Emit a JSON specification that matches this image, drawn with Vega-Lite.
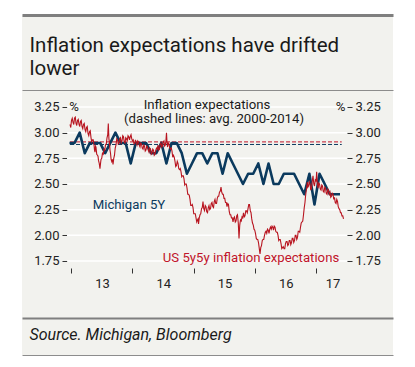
{
  "$schema": "https://vega.github.io/schema/vega-lite/v6.json",
  "width": 371,
  "height": 340,
  "autosize": {"type": "none"},
  "padding": {"left": 22, "top": 15, "right": 22, "bottom": 12},
  "background": "#ffffff",
  "config": {
    "view": {"fill": "#f2f2ee", "stroke": null},
    "font": "Roboto",
    "axis": {"labelFont": "Roboto", "titleFont": "Roboto", "labelFlush": false, "labelOverlap": false, "grid": false}
  },
  "datasets": {
    "grid": [{"v": 1.75}, {"v": 2.0}, {"v": 2.25}, {"v": 2.5}, {"v": 2.75}, {"v": 3.0}, {"v": 3.25}],
    "avg": [{"series": "US 5y5y", "avg": 2.91}, {"series": "Michigan 5Y", "avg": 2.885}],
    "mich": [
      {"t": 2012.975, "v": 2.9},
      {"t": 2013.058, "v": 2.9}, {"t": 2013.142, "v": 3.0}, {"t": 2013.225, "v": 2.8}, {"t": 2013.308, "v": 2.9},
      {"t": 2013.392, "v": 2.9}, {"t": 2013.475, "v": 2.9}, {"t": 2013.558, "v": 2.8}, {"t": 2013.642, "v": 2.9},
      {"t": 2013.725, "v": 3.0}, {"t": 2013.808, "v": 2.9}, {"t": 2013.892, "v": 2.9}, {"t": 2013.975, "v": 2.7},
      {"t": 2014.058, "v": 2.9}, {"t": 2014.142, "v": 2.9}, {"t": 2014.225, "v": 2.9}, {"t": 2014.308, "v": 2.8},
      {"t": 2014.392, "v": 2.8}, {"t": 2014.475, "v": 2.9}, {"t": 2014.558, "v": 2.7}, {"t": 2014.642, "v": 2.9},
      {"t": 2014.725, "v": 2.9}, {"t": 2014.808, "v": 2.8}, {"t": 2014.892, "v": 2.6}, {"t": 2014.975, "v": 2.7},
      {"t": 2015.058, "v": 2.8}, {"t": 2015.142, "v": 2.8}, {"t": 2015.225, "v": 2.7}, {"t": 2015.308, "v": 2.8},
      {"t": 2015.392, "v": 2.8}, {"t": 2015.475, "v": 2.6}, {"t": 2015.558, "v": 2.8}, {"t": 2015.642, "v": 2.7},
      {"t": 2015.725, "v": 2.6}, {"t": 2015.808, "v": 2.5}, {"t": 2015.892, "v": 2.6}, {"t": 2015.975, "v": 2.6},
      {"t": 2016.058, "v": 2.7}, {"t": 2016.142, "v": 2.5}, {"t": 2016.225, "v": 2.7}, {"t": 2016.308, "v": 2.5},
      {"t": 2016.392, "v": 2.5}, {"t": 2016.475, "v": 2.6}, {"t": 2016.558, "v": 2.6}, {"t": 2016.642, "v": 2.6},
      {"t": 2016.725, "v": 2.5}, {"t": 2016.808, "v": 2.4}, {"t": 2016.892, "v": 2.6}, {"t": 2016.975, "v": 2.3},
      {"t": 2017.058, "v": 2.6}, {"t": 2017.142, "v": 2.5}, {"t": 2017.225, "v": 2.4}, {"t": 2017.308, "v": 2.4},
      {"t": 2017.392, "v": 2.4}
    ],
    "us": [
      {"t": 2012.984, "v": 3.08}, {"t": 2012.996, "v": 3.05}, {"t": 2013.008, "v": 3.12}, {"t": 2013.020, "v": 3.14},
      {"t": 2013.033, "v": 3.10}, {"t": 2013.045, "v": 3.08}, {"t": 2013.057, "v": 3.14}, {"t": 2013.070, "v": 3.15},
      {"t": 2013.082, "v": 3.09}, {"t": 2013.094, "v": 3.07}, {"t": 2013.106, "v": 3.12}, {"t": 2013.118, "v": 3.13},
      {"t": 2013.131, "v": 3.08}, {"t": 2013.143, "v": 3.06}, {"t": 2013.155, "v": 3.11}, {"t": 2013.167, "v": 3.12},
      {"t": 2013.180, "v": 3.06}, {"t": 2013.192, "v": 3.04}, {"t": 2013.204, "v": 3.08}, {"t": 2013.216, "v": 3.09},
      {"t": 2013.229, "v": 3.03}, {"t": 2013.241, "v": 3.01}, {"t": 2013.253, "v": 3.05}, {"t": 2013.265, "v": 3.06},
      {"t": 2013.278, "v": 2.99}, {"t": 2013.290, "v": 2.97}, {"t": 2013.302, "v": 3.01}, {"t": 2013.314, "v": 3.02},
      {"t": 2013.327, "v": 2.95}, {"t": 2013.339, "v": 2.91}, {"t": 2013.351, "v": 2.93}, {"t": 2013.363, "v": 2.93},
      {"t": 2013.376, "v": 2.88}, {"t": 2013.384, "v": 2.83}, {"t": 2013.392, "v": 2.81}, {"t": 2013.400, "v": 2.87},
      {"t": 2013.408, "v": 2.86}, {"t": 2013.420, "v": 2.79}, {"t": 2013.433, "v": 2.78}, {"t": 2013.441, "v": 2.77},
      {"t": 2013.449, "v": 2.73}, {"t": 2013.461, "v": 2.70}, {"t": 2013.473, "v": 2.65}, {"t": 2013.482, "v": 2.70},
      {"t": 2013.490, "v": 2.74}, {"t": 2013.502, "v": 2.75}, {"t": 2013.514, "v": 2.80}, {"t": 2013.527, "v": 2.79},
      {"t": 2013.539, "v": 2.84}, {"t": 2013.551, "v": 2.83}, {"t": 2013.563, "v": 2.88}, {"t": 2013.576, "v": 2.89},
      {"t": 2013.588, "v": 2.95}, {"t": 2013.600, "v": 2.98}, {"t": 2013.609, "v": 3.09}, {"t": 2013.619, "v": 2.94},
      {"t": 2013.629, "v": 2.90}, {"t": 2013.637, "v": 2.83}, {"t": 2013.645, "v": 2.80}, {"t": 2013.655, "v": 2.74},
      {"t": 2013.665, "v": 2.72}, {"t": 2013.676, "v": 2.74}, {"t": 2013.686, "v": 2.69}, {"t": 2013.698, "v": 2.75},
      {"t": 2013.710, "v": 2.78}, {"t": 2013.722, "v": 2.85}, {"t": 2013.735, "v": 2.88}, {"t": 2013.747, "v": 2.94},
      {"t": 2013.759, "v": 2.93}, {"t": 2013.771, "v": 2.89}, {"t": 2013.784, "v": 2.90}, {"t": 2013.796, "v": 2.94},
      {"t": 2013.808, "v": 2.95}, {"t": 2013.820, "v": 2.90}, {"t": 2013.833, "v": 2.92}, {"t": 2013.845, "v": 2.97},
      {"t": 2013.857, "v": 2.96}, {"t": 2013.869, "v": 2.91}, {"t": 2013.882, "v": 2.90}, {"t": 2013.894, "v": 2.95},
      {"t": 2013.906, "v": 2.94}, {"t": 2013.918, "v": 2.92}, {"t": 2013.931, "v": 2.97}, {"t": 2013.943, "v": 2.96},
      {"t": 2013.955, "v": 2.93}, {"t": 2013.967, "v": 2.96}, {"t": 2013.980, "v": 2.98}, {"t": 2013.992, "v": 2.94},
      {"t": 2014.004, "v": 2.92}, {"t": 2014.016, "v": 2.93}, {"t": 2014.029, "v": 2.89}, {"t": 2014.041, "v": 2.90},
      {"t": 2014.053, "v": 2.93}, {"t": 2014.065, "v": 2.90}, {"t": 2014.078, "v": 2.88}, {"t": 2014.090, "v": 2.92},
      {"t": 2014.102, "v": 2.91}, {"t": 2014.114, "v": 2.88}, {"t": 2014.127, "v": 2.86}, {"t": 2014.139, "v": 2.90},
      {"t": 2014.151, "v": 2.89}, {"t": 2014.163, "v": 2.85}, {"t": 2014.176, "v": 2.84}, {"t": 2014.188, "v": 2.88},
      {"t": 2014.200, "v": 2.87}, {"t": 2014.212, "v": 2.82}, {"t": 2014.224, "v": 2.83}, {"t": 2014.237, "v": 2.87},
      {"t": 2014.249, "v": 2.86}, {"t": 2014.261, "v": 2.83}, {"t": 2014.273, "v": 2.81}, {"t": 2014.285, "v": 2.85},
      {"t": 2014.298, "v": 2.84}, {"t": 2014.310, "v": 2.79}, {"t": 2014.322, "v": 2.80}, {"t": 2014.335, "v": 2.84},
      {"t": 2014.347, "v": 2.83}, {"t": 2014.359, "v": 2.78}, {"t": 2014.371, "v": 2.79}, {"t": 2014.384, "v": 2.83},
      {"t": 2014.396, "v": 2.85}, {"t": 2014.408, "v": 2.84}, {"t": 2014.420, "v": 2.88}, {"t": 2014.433, "v": 2.83},
      {"t": 2014.445, "v": 2.84}, {"t": 2014.457, "v": 2.89}, {"t": 2014.469, "v": 2.90}, {"t": 2014.482, "v": 2.86},
      {"t": 2014.494, "v": 2.87}, {"t": 2014.506, "v": 2.91}, {"t": 2014.518, "v": 2.92}, {"t": 2014.529, "v": 2.87},
      {"t": 2014.540, "v": 2.88}, {"t": 2014.550, "v": 2.92}, {"t": 2014.559, "v": 3.00}, {"t": 2014.568, "v": 2.90},
      {"t": 2014.576, "v": 2.86}, {"t": 2014.588, "v": 2.90}, {"t": 2014.600, "v": 2.89}, {"t": 2014.612, "v": 2.85},
      {"t": 2014.624, "v": 2.84}, {"t": 2014.637, "v": 2.85}, {"t": 2014.649, "v": 2.82}, {"t": 2014.661, "v": 2.76},
      {"t": 2014.673, "v": 2.78}, {"t": 2014.686, "v": 2.76}, {"t": 2014.698, "v": 2.72}, {"t": 2014.710, "v": 2.67},
      {"t": 2014.722, "v": 2.68}, {"t": 2014.735, "v": 2.72}, {"t": 2014.747, "v": 2.70}, {"t": 2014.759, "v": 2.65},
      {"t": 2014.771, "v": 2.64}, {"t": 2014.784, "v": 2.65}, {"t": 2014.796, "v": 2.62}, {"t": 2014.808, "v": 2.57},
      {"t": 2014.820, "v": 2.58}, {"t": 2014.833, "v": 2.58}, {"t": 2014.845, "v": 2.55}, {"t": 2014.857, "v": 2.49},
      {"t": 2014.869, "v": 2.50}, {"t": 2014.882, "v": 2.50}, {"t": 2014.894, "v": 2.46}, {"t": 2014.906, "v": 2.40},
      {"t": 2014.918, "v": 2.40}, {"t": 2014.931, "v": 2.39}, {"t": 2014.943, "v": 2.35}, {"t": 2014.955, "v": 2.29},
      {"t": 2014.967, "v": 2.29}, {"t": 2014.980, "v": 2.30}, {"t": 2014.992, "v": 2.27}, {"t": 2015.004, "v": 2.21},
      {"t": 2015.016, "v": 2.21}, {"t": 2015.029, "v": 2.21}, {"t": 2015.041, "v": 2.17}, {"t": 2015.053, "v": 2.13},
      {"t": 2015.065, "v": 2.15}, {"t": 2015.074, "v": 2.16}, {"t": 2015.082, "v": 2.11}, {"t": 2015.094, "v": 2.17},
      {"t": 2015.106, "v": 2.20}, {"t": 2015.118, "v": 2.21}, {"t": 2015.131, "v": 2.26}, {"t": 2015.143, "v": 2.27},
      {"t": 2015.155, "v": 2.33}, {"t": 2015.167, "v": 2.26}, {"t": 2015.180, "v": 2.24}, {"t": 2015.192, "v": 2.29},
      {"t": 2015.204, "v": 2.28}, {"t": 2015.216, "v": 2.23}, {"t": 2015.229, "v": 2.22}, {"t": 2015.241, "v": 2.27},
      {"t": 2015.253, "v": 2.29}, {"t": 2015.265, "v": 2.25}, {"t": 2015.278, "v": 2.26}, {"t": 2015.290, "v": 2.31},
      {"t": 2015.302, "v": 2.32}, {"t": 2015.314, "v": 2.28}, {"t": 2015.327, "v": 2.27}, {"t": 2015.339, "v": 2.33},
      {"t": 2015.351, "v": 2.35}, {"t": 2015.363, "v": 2.31}, {"t": 2015.376, "v": 2.31}, {"t": 2015.388, "v": 2.36},
      {"t": 2015.400, "v": 2.38}, {"t": 2015.412, "v": 2.38}, {"t": 2015.424, "v": 2.42}, {"t": 2015.437, "v": 2.43},
      {"t": 2015.449, "v": 2.47}, {"t": 2015.461, "v": 2.42}, {"t": 2015.473, "v": 2.40}, {"t": 2015.486, "v": 2.40},
      {"t": 2015.498, "v": 2.36}, {"t": 2015.510, "v": 2.36}, {"t": 2015.522, "v": 2.32}, {"t": 2015.535, "v": 2.32},
      {"t": 2015.547, "v": 2.28}, {"t": 2015.559, "v": 2.31}, {"t": 2015.571, "v": 2.30}, {"t": 2015.584, "v": 2.23},
      {"t": 2015.596, "v": 2.20}, {"t": 2015.608, "v": 2.20}, {"t": 2015.620, "v": 2.17}, {"t": 2015.633, "v": 2.17},
      {"t": 2015.645, "v": 2.13}, {"t": 2015.657, "v": 2.17}, {"t": 2015.669, "v": 2.18}, {"t": 2015.682, "v": 2.13},
      {"t": 2015.694, "v": 2.14}, {"t": 2015.706, "v": 2.19}, {"t": 2015.718, "v": 2.20}, {"t": 2015.731, "v": 2.12},
      {"t": 2015.743, "v": 1.97}, {"t": 2015.755, "v": 2.10}, {"t": 2015.767, "v": 2.15}, {"t": 2015.780, "v": 2.14},
      {"t": 2015.792, "v": 2.18}, {"t": 2015.804, "v": 2.17}, {"t": 2015.816, "v": 2.22}, {"t": 2015.829, "v": 2.18},
      {"t": 2015.841, "v": 2.19}, {"t": 2015.853, "v": 2.24}, {"t": 2015.865, "v": 2.24}, {"t": 2015.878, "v": 2.22},
      {"t": 2015.890, "v": 2.26}, {"t": 2015.902, "v": 2.30}, {"t": 2015.914, "v": 2.30}, {"t": 2015.927, "v": 2.24},
      {"t": 2015.939, "v": 2.22}, {"t": 2015.951, "v": 2.16}, {"t": 2015.963, "v": 2.12}, {"t": 2015.976, "v": 2.10},
      {"t": 2015.988, "v": 2.06}, {"t": 2016.000, "v": 2.05}, {"t": 2016.012, "v": 2.02}, {"t": 2016.025, "v": 1.97},
      {"t": 2016.037, "v": 1.96}, {"t": 2016.049, "v": 1.96}, {"t": 2016.061, "v": 1.93}, {"t": 2016.074, "v": 1.87},
      {"t": 2016.086, "v": 1.82}, {"t": 2016.098, "v": 1.88}, {"t": 2016.110, "v": 1.90}, {"t": 2016.123, "v": 1.95},
      {"t": 2016.135, "v": 1.96}, {"t": 2016.147, "v": 1.96}, {"t": 2016.159, "v": 2.00}, {"t": 2016.172, "v": 2.03},
      {"t": 2016.184, "v": 2.04}, {"t": 2016.196, "v": 2.02}, {"t": 2016.208, "v": 2.06}, {"t": 2016.221, "v": 2.05},
      {"t": 2016.233, "v": 2.02}, {"t": 2016.245, "v": 2.06}, {"t": 2016.257, "v": 2.08}, {"t": 2016.270, "v": 2.06},
      {"t": 2016.282, "v": 2.09}, {"t": 2016.294, "v": 2.08}, {"t": 2016.306, "v": 2.05}, {"t": 2016.318, "v": 2.09},
      {"t": 2016.331, "v": 2.08}, {"t": 2016.343, "v": 2.04}, {"t": 2016.355, "v": 2.03}, {"t": 2016.368, "v": 2.03},
      {"t": 2016.380, "v": 2.00}, {"t": 2016.392, "v": 1.95}, {"t": 2016.404, "v": 1.96}, {"t": 2016.416, "v": 1.96},
      {"t": 2016.429, "v": 1.92}, {"t": 2016.441, "v": 1.87}, {"t": 2016.453, "v": 1.88}, {"t": 2016.465, "v": 1.89},
      {"t": 2016.478, "v": 1.87}, {"t": 2016.490, "v": 1.87}, {"t": 2016.502, "v": 1.92}, {"t": 2016.514, "v": 1.94},
      {"t": 2016.527, "v": 1.94}, {"t": 2016.539, "v": 1.90}, {"t": 2016.551, "v": 1.91}, {"t": 2016.563, "v": 1.95},
      {"t": 2016.576, "v": 1.95}, {"t": 2016.588, "v": 1.91}, {"t": 2016.600, "v": 1.93}, {"t": 2016.612, "v": 1.97},
      {"t": 2016.624, "v": 1.97}, {"t": 2016.637, "v": 1.93}, {"t": 2016.649, "v": 1.95}, {"t": 2016.661, "v": 2.00},
      {"t": 2016.673, "v": 2.00}, {"t": 2016.686, "v": 1.96}, {"t": 2016.698, "v": 1.98}, {"t": 2016.710, "v": 2.04},
      {"t": 2016.722, "v": 2.04}, {"t": 2016.735, "v": 2.03}, {"t": 2016.747, "v": 2.08}, {"t": 2016.759, "v": 2.12},
      {"t": 2016.771, "v": 2.13}, {"t": 2016.784, "v": 2.14}, {"t": 2016.796, "v": 2.20}, {"t": 2016.808, "v": 2.27},
      {"t": 2016.820, "v": 2.32}, {"t": 2016.829, "v": 2.38}, {"t": 2016.837, "v": 2.42}, {"t": 2016.848, "v": 2.46},
      {"t": 2016.858, "v": 2.52}, {"t": 2016.868, "v": 2.47}, {"t": 2016.878, "v": 2.48}, {"t": 2016.890, "v": 2.52},
      {"t": 2016.902, "v": 2.50}, {"t": 2016.915, "v": 2.44}, {"t": 2016.927, "v": 2.46}, {"t": 2016.939, "v": 2.53},
      {"t": 2016.951, "v": 2.58}, {"t": 2016.964, "v": 2.50}, {"t": 2016.976, "v": 2.48}, {"t": 2016.988, "v": 2.54},
      {"t": 2017.000, "v": 2.53}, {"t": 2017.006, "v": 2.57}, {"t": 2017.011, "v": 2.62}, {"t": 2017.022, "v": 2.50},
      {"t": 2017.033, "v": 2.46}, {"t": 2017.045, "v": 2.51}, {"t": 2017.057, "v": 2.50}, {"t": 2017.070, "v": 2.45},
      {"t": 2017.082, "v": 2.44}, {"t": 2017.094, "v": 2.49}, {"t": 2017.106, "v": 2.48}, {"t": 2017.118, "v": 2.43},
      {"t": 2017.131, "v": 2.42}, {"t": 2017.143, "v": 2.47}, {"t": 2017.155, "v": 2.46}, {"t": 2017.167, "v": 2.41},
      {"t": 2017.180, "v": 2.40}, {"t": 2017.192, "v": 2.45}, {"t": 2017.204, "v": 2.44}, {"t": 2017.216, "v": 2.40},
      {"t": 2017.229, "v": 2.42}, {"t": 2017.241, "v": 2.37}, {"t": 2017.253, "v": 2.38}, {"t": 2017.265, "v": 2.41},
      {"t": 2017.278, "v": 2.40}, {"t": 2017.290, "v": 2.35}, {"t": 2017.302, "v": 2.37}, {"t": 2017.314, "v": 2.32},
      {"t": 2017.327, "v": 2.31}, {"t": 2017.339, "v": 2.35}, {"t": 2017.351, "v": 2.33}, {"t": 2017.363, "v": 2.28},
      {"t": 2017.376, "v": 2.26}, {"t": 2017.388, "v": 2.25}, {"t": 2017.400, "v": 2.22}, {"t": 2017.412, "v": 2.22},
      {"t": 2017.424, "v": 2.19}, {"t": 2017.437, "v": 2.19}, {"t": 2017.449, "v": 2.16}
    ],
    "notes": [
      {"label": "%", "t": 2013.052, "v": 3.211, "kind": "axis"},
      {"label": "%", "t": 2017.400, "v": 3.211, "kind": "axis"},
      {"label": "Inflation expectations", "t": 2015.220, "v": 3.232, "kind": "note"},
      {"label": "(dashed lines: avg. 2000-2014)", "t": 2015.335, "v": 3.094, "kind": "note"},
      {"label": "Michigan 5Y", "t": 2013.947, "v": 2.254, "kind": "Michigan 5Y"},
      {"label": "US 5y5y inflation expectations", "t": 2015.939, "v": 1.745, "kind": "US 5y5y"}
    ]
  },
  "layer": [
    {
      "data": {"name": "grid"},
      "mark": {"type": "rule", "color": "#ffffff", "strokeWidth": 1.5},
      "encoding": {
        "x": {
          "datum": 2012.935, "type": "quantitative",
          "scale": {"type": "linear", "domain": [2012.2, 2018.2571], "nice": false, "zero": false},
          "axis": {
            "orient": "bottom", "offset": -87, "values": [2013, 2014, 2015, 2016, 2017],
            "domain": false, "ticks": true, "tickSize": 5, "tickColor": "#333333", "tickWidth": 1,
            "labels": true, "labelExpr": "substring(toString(datum.value), 2, 4)",
            "labelOffset": {"condition": {"test": "datum.value == 2017", "value": 16.5}, "value": 31},
            "labelPadding": 4, "labelFontSize": 13, "labelColor": "#222222", "title": null
          }
        },
        "x2": {"datum": 2017.506},
        "y": {
          "field": "v", "type": "quantitative",
          "scale": {"type": "linear", "domain": [0.8344, 4.1461], "nice": false, "zero": false},
          "axis": {
            "orient": "left", "offset": -45, "values": [1.75, 2.0, 2.25, 2.5, 2.75, 3.0, 3.25], "format": ".2f",
            "domain": false, "ticks": true, "tickSize": 5, "tickColor": "#333333", "tickWidth": 1,
            "labels": true, "labelPadding": 3, "labelFontSize": 13, "labelColor": "#222222", "title": null
          }
        }
      }
    },
    {
      "data": {"name": "avg"},
      "mark": {"type": "rule", "strokeDash": [4, 2], "strokeWidth": 1},
      "encoding": {
        "x": {
          "datum": 2012.984, "type": "quantitative",
          "scale": {"type": "linear", "domain": [2012.2, 2018.2571], "nice": false, "zero": false},
          "axis": {"orient": "top", "offset": 0, "domain": true, "domainColor": "#7f7f7f", "domainWidth": 3, "ticks": false, "labels": false, "title": null}
        },
        "x2": {"datum": 2017.42},
        "y": {
          "field": "avg", "type": "quantitative",
          "scale": {"type": "linear", "domain": [0.8344, 4.1461], "nice": false, "zero": false},
          "axis": {
            "orient": "right", "offset": -46, "values": [1.75, 2.0, 2.25, 2.5, 2.75, 3.0, 3.25], "format": ".2f",
            "domain": false, "ticks": true, "tickSize": 5, "tickColor": "#333333", "tickWidth": 1,
            "labels": true, "labelPadding": 3, "labelFontSize": 13, "labelColor": "#222222", "title": null
          }
        },
        "color": {
          "field": "series", "type": "nominal",
          "scale": {"domain": ["axis", "note", "Michigan 5Y", "US 5y5y"], "range": ["#222222", "#1a1a1a", "#0b3a5e", "#c0152a"]},
          "legend": null
        }
      }
    },
    {
      "data": {"name": "mich"},
      "mark": {"type": "line", "color": "#0b3a5e", "strokeWidth": 2.6, "strokeJoin": "round"},
      "encoding": {
        "x": {
          "field": "t", "type": "quantitative",
          "scale": {"type": "linear", "domain": [2012.2, 2018.2571], "nice": false, "zero": false},
          "axis": {
            "orient": "top", "offset": -75, "domain": true, "domainColor": "#8c8c8c", "domainWidth": 1,
            "ticks": false, "labels": false,
            "title": ["Inflation expectations have drifted", "lower"],
            "titleX": 7, "titleY": -38.5, "titleAlign": "left", "titleBaseline": "alphabetic",
            "titleFontSize": 20.5, "titleFontWeight": "normal", "titleColor": "#1a1a1a", "titleLineHeight": 22.5
          }
        },
        "y": {
          "field": "v", "type": "quantitative",
          "scale": {"type": "linear", "domain": [0.8344, 4.1461], "nice": false, "zero": false},
          "axis": null
        }
      }
    },
    {
      "data": {"name": "us"},
      "mark": {"type": "line", "color": "#b8141f", "strokeWidth": 1.1},
      "encoding": {
        "x": {
          "field": "t", "type": "quantitative",
          "scale": {"type": "linear", "domain": [2012.2, 2018.2571], "nice": false, "zero": false},
          "axis": {
            "orient": "bottom", "offset": -37, "domain": true, "domainColor": "#7f7f7f", "domainWidth": 2,
            "ticks": false, "labels": false,
            "title": "Source. Michigan, Bloomberg",
            "titleX": 7, "titleY": 21, "titleAlign": "left", "titleBaseline": "alphabetic",
            "titleFontSize": 16, "titleFontStyle": "italic", "titleFontWeight": "normal", "titleColor": "#1a1a1a"
          }
        },
        "y": {
          "field": "v", "type": "quantitative",
          "scale": {"type": "linear", "domain": [0.8344, 4.1461], "nice": false, "zero": false},
          "axis": null
        }
      }
    },
    {
      "data": {"name": "notes"},
      "mark": {"type": "text", "align": "center", "baseline": "alphabetic", "fontSize": 13.2, "font": "Roboto"},
      "encoding": {
        "x": {
          "field": "t", "type": "quantitative",
          "scale": {"type": "linear", "domain": [2012.2, 2018.2571], "nice": false, "zero": false},
          "axis": {"orient": "bottom", "offset": 0, "domain": true, "domainColor": "#8c8c8c", "domainWidth": 1, "ticks": false, "labels": false, "title": null}
        },
        "y": {
          "field": "v", "type": "quantitative",
          "scale": {"type": "linear", "domain": [0.8344, 4.1461], "nice": false, "zero": false},
          "axis": null
        },
        "text": {"field": "label"},
        "color": {
          "field": "kind", "type": "nominal",
          "scale": {"domain": ["axis", "note", "Michigan 5Y", "US 5y5y"], "range": ["#222222", "#1a1a1a", "#0b3a5e", "#c0152a"]},
          "legend": null
        }
      }
    }
  ],
  "resolve": {"axis": {"x": "independent", "y": "independent"}}
}
